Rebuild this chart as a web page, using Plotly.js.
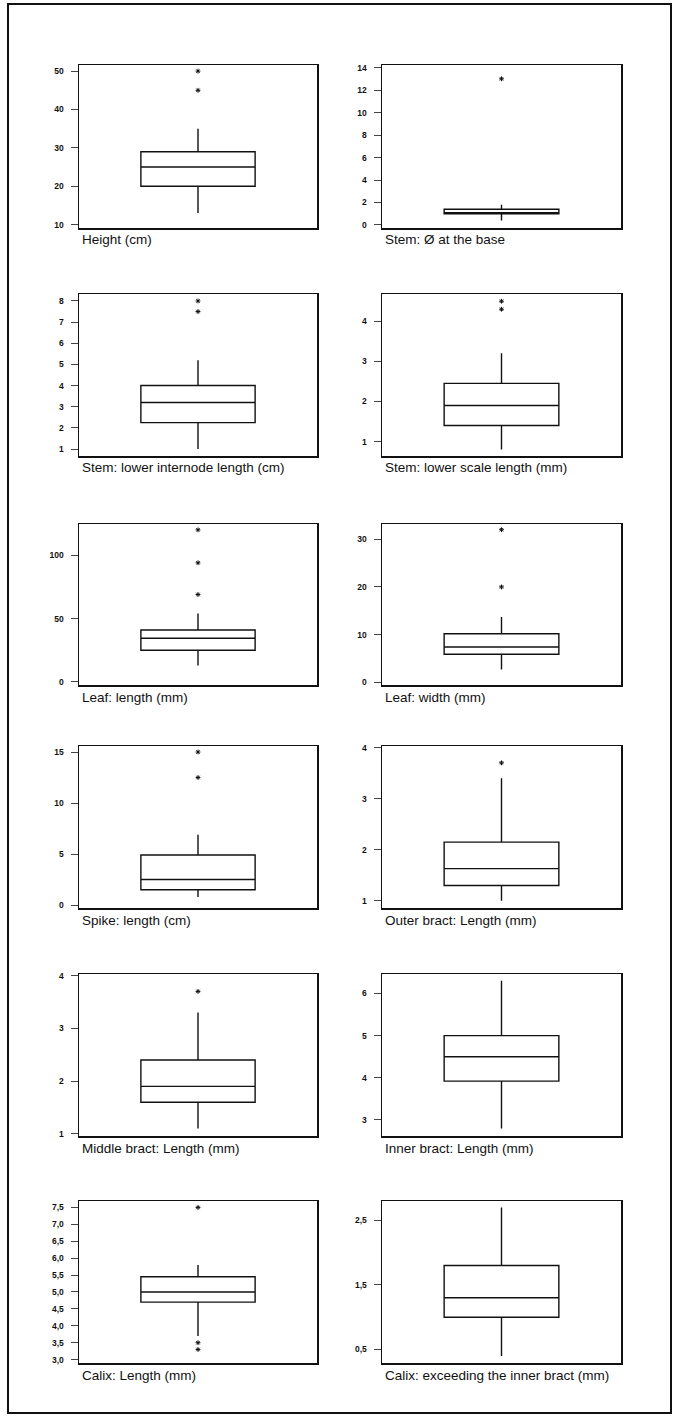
<!DOCTYPE html>
<html>
<head>
<meta charset="utf-8">
<script src="https://cdn.plot.ly/plotly-3.0.1.min.js"></script>
<style>
  html, body { margin: 0; padding: 0; background: #fff; }
  #chart { width: 677px; height: 1418px; }
</style>
</head>
<body>
<div id="chart"></div>
<script>
// ---- data ----
const titles = [
  "Height (cm)", "Stem: Ø at the base",
  "Stem: lower internode length (cm)", "Stem: lower scale length (mm)",
  "Leaf: length (mm)", "Leaf: width (mm)",
  "Spike: length (cm)", "Outer bract: Length (mm)",
  "Middle bract: Length (mm)", "Inner bract: Length (mm)",
  "Calix: Length (mm)", "Calix: exceeding the inner bract (mm)"
];
const lowerWhisker = [13, 0.4, 1.0, 0.8, 13, 2.7, 0.8, 1.0, 1.1, 2.8, 3.7, 0.4];
const q1Values     = [20, 1.0, 2.25, 1.4, 25, 5.9, 1.5, 1.3, 1.6, 3.92, 4.7, 1.0];
const medianValues = [25, 1.1, 3.2, 1.9, 34.5, 7.4, 2.5, 1.63, 1.9, 4.5, 5.0, 1.3];
const q3Values     = [29, 1.4, 4.0, 2.45, 41, 10.2, 4.9, 2.15, 2.4, 5.0, 5.45, 1.8];
const upperWhisker = [35, 1.8, 5.2, 3.2, 54, 13.7, 6.9, 3.4, 3.3, 6.3, 5.8, 2.7];
const outlierValues = [
  [45, 50], [13], [7.5, 8], [4.3, 4.5], [69, 94, 120], [20, 32],
  [12.5, 15], [3.7], [3.7], [], [3.3, 3.5, 7.5], []
];
// y-axis ranges and tick spacing per panel
const yRanges = [
  [9.1, 51.6], [-0.27, 14.23], [0.67, 8.33], [0.64, 4.68],
  [-2.4, 124.6], [-0.56, 33.2], [-0.29, 15.59], [0.86, 4.03],
  [0.96, 4.03], [2.62, 6.46], [2.90, 7.69], [0.29, 2.80]
];
const yTick0 = [0, 0, 0, 0, 0, 0, 0, 0, 0, 0, 0, 0.5];
const yDtick = [10, 2, 1, 1, 50, 10, 5, 1, 1, 1, 0.5, 1];
const yFormat = ["", "", "", "", "", "", "", "", "", "", ".1f", ".1f"];

// ---- layout geometry (pixels) ----
const W = 677, H = 1418;
const colX = [[79, 317], [382, 621]];
const rowY = [[65, 228], [294, 456], [524, 685], [746, 908], [974, 1136], [1201, 1363]];

const traces = [];
const layout = {
  width: W, height: H, autosize: false,
  margin: {l: 0, r: 0, t: 0, b: 0, pad: 0},
  paper_bgcolor: "#fff", plot_bgcolor: "#fff",
  showlegend: false,
  separators: ",.",
  font: {family: "Liberation Sans, Arial, sans-serif", color: "#111"},
  annotations: [],
  shapes: [{
    type: "rect", xref: "paper", yref: "paper",
    x0: 8 / W, x1: 671 / W, y0: 1 - 1413 / H, y1: 1 - 4 / H,
    line: {color: "#111", width: 2}, fillcolor: "rgba(0,0,0,0)"
  }]
};

titles.forEach((t, i) => {
  const n = i + 1;
  const col = i % 2, row = Math.floor(i / 2);
  const xs = n === 1 ? "" : String(n);
  const [xl, xr] = colX[col];
  const [yt, yb] = rowY[row];
  traces.push({
    type: "box", name: t, x: [t],
    q1: [q1Values[i]], median: [medianValues[i]], q3: [q3Values[i]],
    lowerfence: [lowerWhisker[i]], upperfence: [upperWhisker[i]],
    width: 0.48, whiskerwidth: 0, boxpoints: false,
    fillcolor: "#fff", line: {color: "#111", width: 1.4},
    xaxis: "x" + xs, yaxis: "y" + xs, hoverinfo: "skip"
  });
  if (outlierValues[i].length) {
    traces.push({
      type: "scatter", mode: "markers",
      x: outlierValues[i].map(() => t), y: outlierValues[i],
      marker: {symbol: "asterisk-open", size: 4, color: "#111", line: {color: "#111", width: 1}},
      xaxis: "x" + xs, yaxis: "y" + xs, hoverinfo: "skip"
    });
  }
  layout["xaxis" + xs] = {
    domain: [xl / W, xr / W], anchor: "y" + xs,
    type: "category", range: [-0.5, 0.5], fixedrange: true,
    showline: true, mirror: true, linecolor: "#111", linewidth: 1.5,
    showticklabels: false, ticks: "", showgrid: false, zeroline: false
  };
  layout["yaxis" + xs] = {
    domain: [1 - yb / H, 1 - yt / H], anchor: "x" + xs,
    range: yRanges[i], tickmode: "linear", tick0: yTick0[i], dtick: yDtick[i],
    tickformat: yFormat[i],
    showline: true, mirror: true, linecolor: "#111", linewidth: 1.5,
    ticks: "outside", ticklen: 7, tickwidth: 1, tickcolor: "#444",
    ticklabelstandoff: 5,
    tickfont: {size: 8.5, color: "#111", weight: "bold", family: "Liberation Sans, Arial, sans-serif"},
    showgrid: false, zeroline: false, automargin: false, fixedrange: true
  };
  layout.annotations.push({
    text: t, xref: "paper", yref: "paper",
    x: (xl + 1) / W, y: 1 - (yb + 12) / H,
    xanchor: "left", yanchor: "middle", showarrow: false,
    font: {size: 13.5, color: "#111", family: "Liberation Sans, Arial, sans-serif"}
  });
});

Plotly.newPlot("chart", traces, layout, {staticPlot: true, displayModeBar: false});
</script>
</body>
</html>
